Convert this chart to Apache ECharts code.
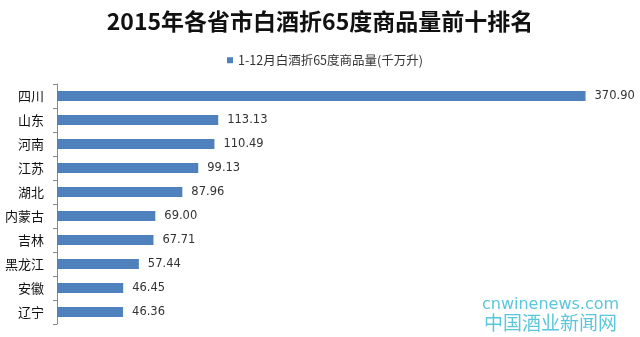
<!DOCTYPE html>
<html><head><meta charset="utf-8">
<script src="https://cdn.jsdelivr.net/npm/echarts@6/dist/echarts.min.js"></script>
<style>html,body{margin:0;padding:0;background:#fff}#c{width:640px;height:337px}</style>
</head><body><div id="c"></div>
<script>
const titleText = '2015年各省市白酒折65度商品量前十排名';
const seriesName = '1-12月白酒折65度商品量(千万升)';
const categories = ['四川','山东','河南','江苏','湖北','内蒙古','吉林','黑龙江','安徽','辽宁'];
const values = [370.90,113.13,110.49,99.13,87.96,69.00,67.71,57.44,46.45,46.36];

const chart = echarts.init(document.getElementById('c'));
chart.setOption({
  backgroundColor:'#fff',
  animation:false,
  title:{text:titleText,left:'center',top:5,textStyle:{fontFamily:'Noto Sans CJK SC',fontWeight:'bold',fontSize:23,color:'#111'}},
  legend:{data:[seriesName],top:49,left:222,itemWidth:6,itemHeight:6,itemGap:3,icon:'rect',
    textStyle:{fontFamily:'Noto Sans CJK SC',fontSize:12.5,color:'#333'}},
  grid:{left:57,right:13,top:84,bottom:13,containLabel:false},
  xAxis:{type:'value',min:0,max:400,show:false},
  yAxis:{type:'category',data:categories,inverse:true,
    axisLine:{show:true,lineStyle:{color:'#888'}},
    axisTick:{show:true,length:4,lineStyle:{color:'#888'}},
    axisLabel:{fontFamily:'Noto Sans CJK SC',fontSize:13,color:'#111',margin:13},
    splitLine:{show:false}},
  series:[{name:seriesName,type:'bar',data:values,barWidth:10,
    itemStyle:{color:'#4f81bd'},
    label:{show:true,position:'right',distance:9,formatter:p=>p.value.toFixed(2),
      fontFamily:'DejaVu Sans',fontSize:11.5,color:'#333'}}],
  graphic:[
    {type:'text',left:482,top:297,style:{text:'cnwinenews.com',fontFamily:'DejaVu Sans',fontSize:16,fill:'#5cc6da'}},
    {type:'text',left:484,top:313,style:{text:'中国酒业新闻网',fontFamily:'Noto Sans CJK SC',fontSize:19,fill:'#5cc6da'}}
  ]
});
</script></body></html>
